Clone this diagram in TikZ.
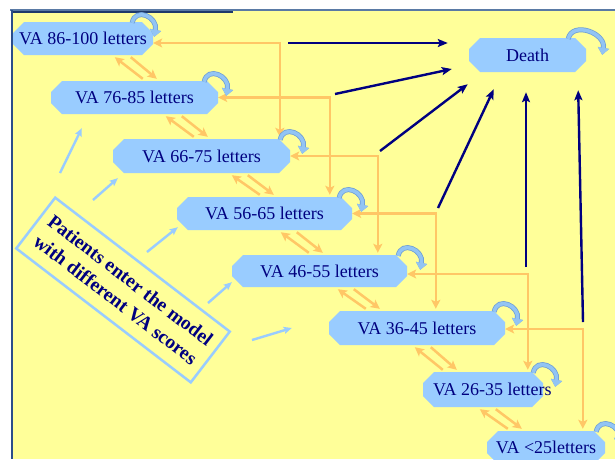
\documentclass[tikz,border=0pt]{standalone}
\usepackage{fontspec}
\setmainfont{Liberation Serif}
\usetikzlibrary{arrows.meta,calc}

\definecolor{paper}{HTML}{FFFF99}
\definecolor{stateblue}{HTML}{99CCFF}
\definecolor{vanavy}{HTML}{000080}
\definecolor{orangeline}{HTML}{FFC766}
\definecolor{entryblue}{HTML}{99CCFF}
\definecolor{loopblue}{HTML}{92C4F4}
\definecolor{loopedge}{HTML}{6E9ED6}
\definecolor{frametop}{HTML}{5A7AA5}
\definecolor{framestrip}{HTML}{1F3A6B}
\definecolor{frameleft}{HTML}{2B4E8A}

\newcommand\vafont{\fontsize{18}{20}\selectfont}
\newcommand\entryfont{\bfseries\fontsize{19.5}{24.5}\selectfont}

% self transition drawn over the top right corner of a state
\newcommand\selfloop[2][0]{%
  \draw[selfloop] ($(#2.north east)+(#1-12,1)$)
    .. controls +(3,-16) and +(4,-20) .. ($(#2.north east)+(#1+10,15)$);}

% pair of transitions between two neighbouring states
\newcommand\vapair[3]{%
  \draw[pairarrow] ($(#1.south west)+(#3-26,2)$) -- ($(#1.south west |- #2.north)+(#3,-2)$);
  \draw[pairarrow] ($(#1.south west |- #2.north)+(#3-14,-2)$) -- ($(#1.south west)+(#3-42,2)$);}

\begin{document}
\begin{tikzpicture}[x=1pt,y=-1pt,
  state/.style={rectangle, inner sep=0pt, minimum height=33pt, font=\vafont, text=vanavy,
    path picture={\fill[stateblue]
      ([xshift=11pt]path picture bounding box.north west) -- ([xshift=-11pt]path picture bounding box.north east)
      -- ([yshift=-11pt]path picture bounding box.north east) -- ([yshift=11pt]path picture bounding box.south east)
      -- ([xshift=-11pt]path picture bounding box.south east) -- ([xshift=11pt]path picture bounding box.south west)
      -- ([yshift=11pt]path picture bounding box.south west) -- ([yshift=-11pt]path picture bounding box.north west)
      -- cycle;}},
  entry/.style={rectangle, draw=entryblue, line width=2.5pt, inner sep=0pt,
    align=center, font=\entryfont, text=vanavy},
  pairarrow/.style={draw=orangeline, line width=2.5pt, -{Stealth[length=9pt,width=9pt,inset=2pt]}},
  elbow/.style={draw=orangeline, line width=2.5pt,
    {Stealth[length=9pt,width=9pt,inset=2pt]}-{Stealth[length=9pt,width=9pt,inset=2pt]}},
  deatharrow/.style={draw=vanavy, line width=2.4pt, -{Stealth[length=10pt,width=8pt,inset=2pt]}},
  entryarrow/.style={draw=entryblue, line width=2.4pt, -{Stealth[length=8pt,width=7pt,inset=1.5pt]}},
  selfloop/.style={draw=loopblue, line width=3.5pt, -{Triangle[length=7pt,width=11pt]},
    preaction={draw=loopedge, line width=5pt}}]

\useasboundingbox (0,0) rectangle (615,459);

% frame and background
\fill[white] (0,0) rectangle (615,459);
\fill[paper] (12,11) rectangle (615,459);
\draw[frametop, line width=1.5pt] (10,10) -- (615,10);
\draw[framestrip, line width=1.5pt] (12,12) -- (233,12);
\draw[frameleft, line width=2.6pt] (11.8,10) -- (11.8,459);

% states
\node[state, minimum width=140pt] (n1) at (83,38.5) {VA 86-100 letters};
\node[state, minimum width=167pt] (n2) at (134.5,97.5) {VA 76-85 letters};
\node[state, minimum width=177pt, minimum height=34pt] (n3) at (201.5,156) {VA 66-75 letters};
\node[state, minimum width=175pt] (n4) at (264.5,213.5) {VA 56-65 letters};
\node[state, minimum width=175pt, minimum height=32pt] (n5) at (319.5,271) {VA 46-55 letters};
\node[state, minimum width=176pt, minimum height=34pt] (n6) at (417,328) {VA 36-45 letters};
\node[state, minimum width=120pt, minimum height=35pt] (n7) at (483,389.5)
  {\makebox[120pt][l]{\hspace*{10pt}VA 26-35 letters}};
\node[state, minimum width=118pt] (n8) at (546,447.5) {VA <25letters};
\node[state, minimum width=117pt, minimum height=34pt] (death) at (527.5,55) {Death};

% entry box
\node[entry, rotate=-37.5, minimum width=220pt, minimum height=64pt] (entrybox) at (123,290)
  {Patients enter the model\\with different VA scores};

% transitions to the neighbouring state
\vapair{n1}{n2}{144}
\vapair{n2}{n3}{157}
\vapair{n3}{n4}{161}
\vapair{n4}{n5}{146}
\vapair{n5}{n6}{148}
\vapair{n6}{n7}{128}
\vapair{n7}{n8}{99}

% transitions skipping one state
\draw[elbow] ([yshift=-4.5pt]n1.east) -| ($(n3.north west)+(167,-2)$);
\draw[elbow] (n2.east) -| ($(n4.north west)+(153,-2)$);
\draw[elbow] (n3.east) -| ($(n5.north west)+(146,-2)$);
\draw[elbow] (n4.east) -| ($(n6.north west)+(107,-2)$);
\draw[elbow] ([yshift=-3pt]n5.east) -| ($(n7.north west)+(105,-2)$);
\draw[elbow] ([yshift=-1pt]n6.east) -| ($(n8.north west)+(96,-2)$);

% transitions to death
\coordinate (t1) at (288,43);
\coordinate (t2) at (335,94);
\coordinate (t3) at (380,151);
\coordinate (t4) at (438,208);
\coordinate (t5) at (526,267);
\coordinate (t6) at (583,322);
\draw[deatharrow] (t1) -- ($(death.west)+(-21,-12)$);
\draw[deatharrow] (t2) -- ($(death.west)+(-17,14)$);
\draw[deatharrow] (t3) -- ($(death.south west)+(-1,12)$);
\draw[deatharrow] (t4) -- ($(death.south west)+(25,17)$);
\draw[deatharrow] (t5) -- ($(death.south)+(-1.5,20)$);
\draw[deatharrow] (t6) -- ($(death.south east)+(-8,18)$);

% entry into the model
\coordinate (s1) at (60,173);
\coordinate (s2) at (93,200);
\coordinate (s3) at (147,252);
\coordinate (s4) at (208,303);
\coordinate (s5) at (252,340);
\draw[entryarrow] (s1) -- ($(n2.south west)+(31,14)$);
\draw[entryarrow] (s2) -- ($(n3.south west)+(5,5)$);
\draw[entryarrow] (s3) -- ($(n4.south west)+(1,-3)$);
\draw[entryarrow] (s4) -- ($(n5.south west)+(0,-5)$);
\draw[entryarrow] (s5) -- ($(n6.west)+(-37,0)$);

% staying in the same state
\selfloop[-9]{n1}
\selfloop[-2]{n2}
\selfloop[2]{n3}
\selfloop[-1]{n4}
\selfloop[3]{n5}
\selfloop[1]{n6}
\selfloop[2]{n7}
\selfloop[3]{n8}
\draw[selfloop] ($(death.north east)+(-18,1)$)
  .. controls +(4,-18) and +(4,-22) .. ($(death.north east)+(16,17)$);

\end{tikzpicture}
\end{document}
